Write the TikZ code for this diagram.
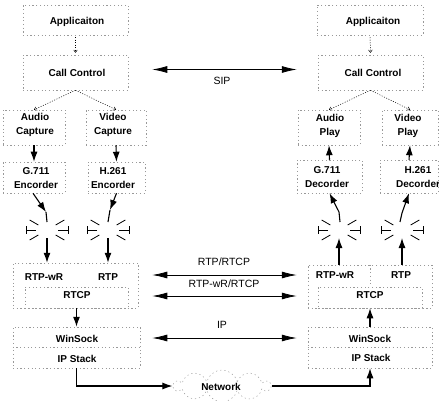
\documentclass[tikz,border=0pt]{standalone}
\usepackage{fontspec}
\setmainfont{Liberation Sans}
\usetikzlibrary{arrows.meta,shapes.symbols,calc}
\begin{document}
\begin{tikzpicture}[x=1pt,y=-1pt,
  box/.style={draw=black!40, dash pattern=on 1.2pt off 2.5pt, line width=0.5pt, rectangle, inner sep=0pt},
  sep/.style={draw=black!40, dash pattern=on 1.2pt off 2.5pt, line width=0.5pt},
  lbl/.style={font=\bfseries\fontsize{10}{14}\selectfont, inner sep=0pt, align=center},
  mlbl/.style={font=\fontsize{10.5}{12}\selectfont, inner sep=0pt},
  dot/.style={line width=0.5pt, dash pattern=on 1pt off 1.5pt, -{To[length=3pt,width=4pt]}},
  arr/.style={line width=1.1pt, -{Latex[length=10pt,width=7pt]}},
  harr/.style={line width=0.8pt, {Latex[length=15pt,width=7pt]}-{Latex[length=15pt,width=7pt]}},
  ray/.style={line width=0.8pt},
  bnode/.style={circle, inner sep=0pt, minimum size=1pt}
]
\useasboundingbox (0,0) rectangle (439,401);

% ---- left boxes
\node[box, minimum width=105pt, minimum height=30pt] (app1) at (75.5,20) {};
\node[box, minimum width=105pt, minimum height=35pt] (cc1) at (75.5,72.5) {};
\node[box, minimum width=62pt, minimum height=35pt] (ac1) at (34,127.5) {};
\node[box, minimum width=60pt, minimum height=35pt] (vc1) at (116,127.5) {};
\node[box, minimum width=62pt, minimum height=31pt] (enc1) at (34,177.5) {};
\node[box, minimum width=57pt, minimum height=31pt] (enc2) at (116.5,177.5) {};
\node[box, minimum width=125pt, minimum height=45pt] (rtp1) at (75.5,285.5) {};
\node[box, minimum width=103pt, minimum height=21pt] (rtcp1) at (76.5,297.5) {};
\node[box, minimum width=127pt, minimum height=41pt] (ws1) at (76.5,347.5) {};
\draw[sep] (ws1.west) -- (ws1.east);

% ---- right boxes
\node[box, minimum width=106pt, minimum height=30pt] (app2) at (370,20) {};
\node[box, minimum width=105pt, minimum height=35pt] (cc2) at (370.5,72.5) {};
\node[box, minimum width=62pt, minimum height=35pt] (ap2) at (329,127.5) {};
\node[box, minimum width=56pt, minimum height=35pt] (vp2) at (410,127.5) {};
\node[box, minimum width=65pt, minimum height=33pt] (dec1) at (329.5,176.5) {};
\node[box, minimum width=58pt, minimum height=33pt] (dec2) at (409,176.5) {};
\node[box, minimum width=124pt, minimum height=43pt] (rtp2) at (370,286.5) {};
\node[box, minimum width=104pt, minimum height=21pt] (rtcp2) at (370,297.5) {};
\draw[sep] (rtp2.north) -- (rtcp2.north);
\node[box, minimum width=124pt, minimum height=41pt] (ws2) at (370,347.5) {};
\draw[sep] (ws2.west) -- (ws2.east);

% ---- texts
\node[lbl] (tapp1) at (77,22) {Applicaiton};
\node[lbl] (tcc1) at (77,73) {Call Control};
\node[lbl] (tac1) at (35,125) {Audio\\Capture};
\node[lbl] (tvc1) at (113,125) {Video\\Capture};
\node[lbl] (tenc1) at (36,178) {G.711\\Encorder};
\node[lbl] (tenc2) at (113,178) {H.261\\Encorder};
\node[lbl] (trw1) at (44,277) {RTP-wR};
\node[lbl] (trtp1) at (108,277) {RTP};
\node[lbl] (trtcp1) at (77,295) {RTCP};
\node[lbl] (tws1) at (77,339) {WinSock};
\node[lbl] (tip1) at (77,359) {IP Stack};

\node[lbl] (tapp2) at (373,22) {Applicaiton};
\node[lbl] (tcc2) at (373,73) {Call Control};
\node[lbl] (tap2) at (330,126) {Audio\\Play};
\node[lbl] (tvp2) at (408,126) {Video\\Play};
\node[lbl] (tdec1) at (327,177) {G.711\\Decorder};
\node[lbl] (tdec2) at (418,177) {H.261\\Decorder};
\node[lbl] (trw2) at (335,275) {RTP-wR};
\node[lbl] (trtp2) at (401,275) {RTP};
\node[lbl] (trtcp2) at (370,295) {RTCP};
\node[lbl] (tws2) at (370,339) {WinSock};
\node[lbl] (tip2) at (371,358) {IP Stack};

% ---- dotted control arrows
\draw[dot] ([yshift=-2pt]app1.south) -- ([yshift=2pt]cc1.north);
\draw[dot] ([yshift=-2pt]app2.south) -- ([yshift=2pt]cc2.north);
\draw[dot] (cc1.south) -- (ac1.north);
\draw[dot] (cc1.south) -- (vc1.north);
\draw[dot] (cc2.south) -- (ap2.north);
\draw[dot] (cc2.south) -- (vp2.north);

% ---- capture / play arrows
\draw[arr] (ac1.south) -- (enc1.north);
\draw[arr] (vc1.south) -- (enc2.north);
\draw[arr] (dec1.north) -- (ap2.south);
\draw[arr] (dec2.north) -- (vp2.south);

% ---- bursts (switch symbols)
\node[bnode] (b1) at (47,230) {};
\node[bnode] (b2) at (108,230) {};
\node[bnode] (b3) at (339,230) {};
\node[bnode] (b4) at (402,230) {};
\foreach \b in {b1,b2,b3,b4}{
  \foreach \a in {30,150,210,330}{
    \draw[ray] ($(\b)+(\a:10)$) -- ($(\b)+(\a:20)$);
  }
  \draw[ray] ($(\b)+(11,0)$) -- ($(\b)+(21,0)$);
  \draw[ray] ($(\b)+(21,-4)$) -- ($(\b)+(21,4)$);
  \draw[ray] ($(\b)+(-11,0)$) -- ($(\b)+(-21,0)$);
  \draw[ray] ($(\b)+(-21,-4)$) -- ($(\b)+(-21,4)$);
}

% encoders -> bursts
\draw[arr] ([xshift=-1pt]enc1.south) -- ($(b1)+(-1,-18)$);
\draw[line width=1.1pt] ($(b1)+(-1,-18)$) -- ($(b1)+(0,-8)$);
\draw[arr] (enc2.south) -- ($(b2)+(2,-20)$);
\draw[line width=1.1pt] ($(b2)+(2,-20)$) -- ($(b2)+(0,-8)$);
% bursts -> RTP box
\draw[arr] ($(b1)+(0,8)$) -- (b1 |- rtp1.north);
\draw[arr] ($(b2)+(0,8)$) -- (b2 |- rtp1.north);
% RTP box -> bursts (right)
\draw[arr] (b3 |- rtp2.north) -- ($(b3)+(0,8)$);
\draw[arr] (b4 |- rtp2.north) -- ($(b4)+(0,8)$);
% bursts -> decoders
\draw[arr] ($(b3)+(1,-8)$) -- ($(b3)+(0,-18)$) -- (dec1.south);
\draw[arr] ($(b4)+(-2,-8)$) -- ($(b4)+(0,-17)$) -- (dec2.south);

% ---- stack arrows
\draw[arr] (rtcp1.south) -- (ws1.north);
\draw[arr] (ws2.north) -- (rtcp2.south);

% ---- network
\node[cloud, cloud puffs=10, aspect=3, draw=black!40, dash pattern=on 1.2pt off 3pt, line width=0.5pt,
      minimum width=96pt, minimum height=32pt, inner sep=0pt] (net) at (222,386) {};
\node[lbl] (tnet) at (221,387) {Network};
\draw[arr] (ws1.south) |- (net.west);
\draw[arr] (net.east) -| (ws2.south);

% ---- peer arrows
\draw[harr] ($(cc1.east)+(24,-3)$) -- ($(cc2.west)+(-21,-3)$);
\node[mlbl] (tsip) at (222,81) {SIP};
\draw[harr] ($(rtp1.east)+(14,-10.5)$) -- ($(rtp2.west)+(-11,-11.5)$);
\node[mlbl] (trr) at (224,262) {RTP/RTCP};
\draw[harr] ($(rtp1.east)+(14,10.5)$) -- ($(rtp2.west)+(-11,9.5)$);
\node[mlbl] (trwr) at (224,284) {RTP-wR/RTCP};
\draw[harr] ($(ws1.east)+(12,-9.5)$) -- ($(ws2.west)+(-11,-9.5)$);
\node[mlbl] (tipl) at (222,325) {IP};
\end{tikzpicture}
\end{document}
